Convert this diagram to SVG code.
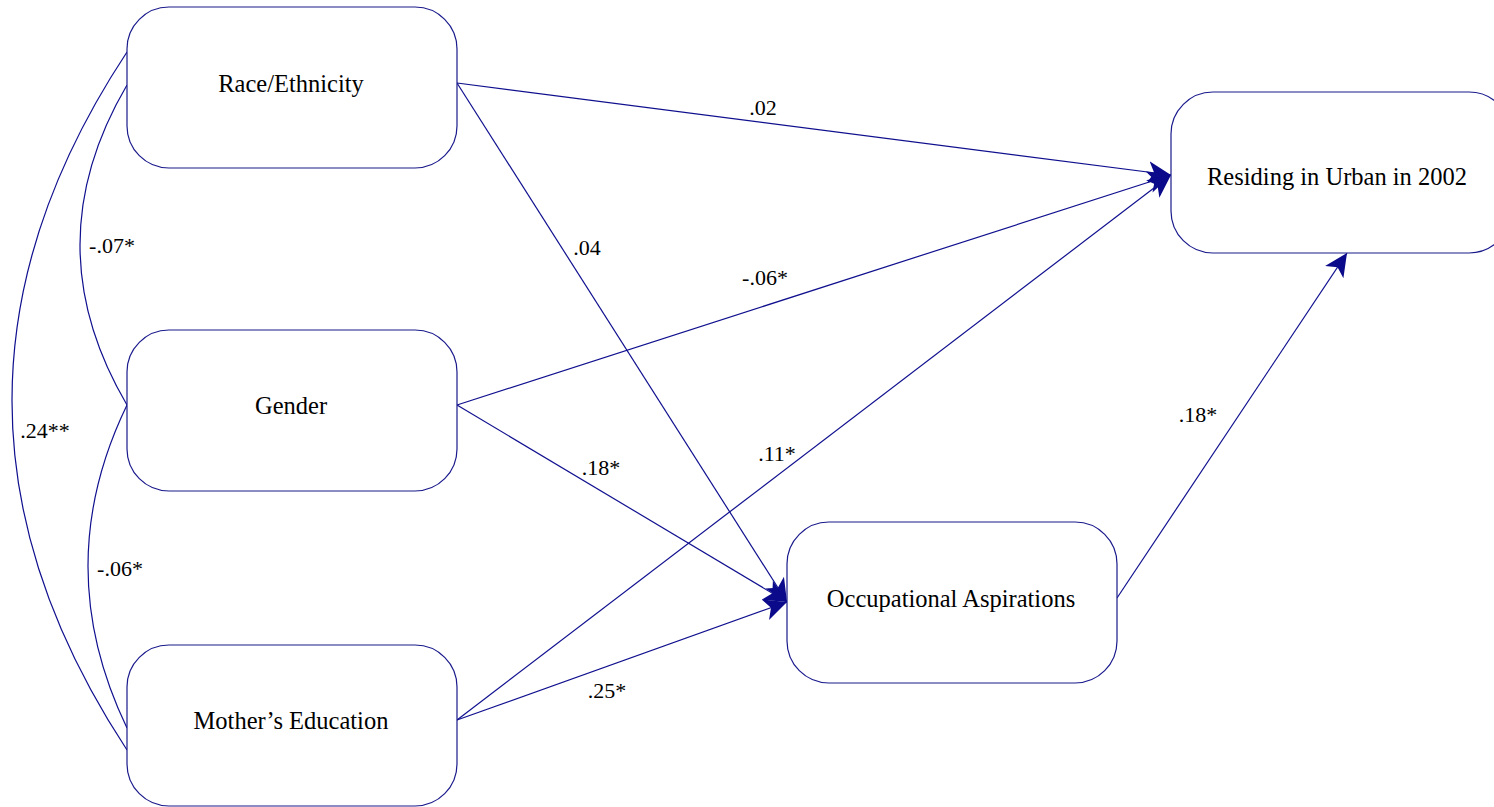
<svg xmlns="http://www.w3.org/2000/svg" width="1494" height="807" viewBox="0 0 1494 807">
<defs>
<style>
.box{fill:#fff;stroke:#1a1a8c;stroke-width:1.2}
.lbl{font-family:'Liberation Serif','DejaVu Serif','Times New Roman',serif;font-size:24.5px;fill:#000;text-anchor:middle;dominant-baseline:central}
.el{font-family:'Liberation Serif','DejaVu Serif','Times New Roman',serif;font-size:22px;fill:#000;text-anchor:middle;dominant-baseline:central}
.cn{fill:none;stroke:#10108f;stroke-width:1.2}
</style>
<marker id="ah" markerUnits="userSpaceOnUse" markerWidth="26" markerHeight="24" refX="23" refY="12" orient="auto">
<path d="M0,1 L23,12 L0,23 L6,12 Z" fill="#0a0a8a"/>
</marker>
</defs>
<rect width="1494" height="807" fill="#fff"/>
<g id="connectors">
<path class="cn" d="M127,52 Q-103,400 127,750"/>
<path class="cn" d="M127,85 Q33,245 127,405"/>
<path class="cn" d="M127,405 Q49,566 127,728"/>
<line class="cn" x1="457" y1="83" x2="1171" y2="175" marker-end="url(#ah)"/>
<line class="cn" x1="457" y1="83" x2="787" y2="602" marker-end="url(#ah)"/>
<line class="cn" x1="457" y1="405" x2="1171" y2="175" marker-end="url(#ah)"/>
<line class="cn" x1="457" y1="405" x2="787" y2="602" marker-end="url(#ah)"/>
<line class="cn" x1="457" y1="720" x2="1171" y2="175" marker-end="url(#ah)"/>
<line class="cn" x1="457" y1="720" x2="787" y2="602" marker-end="url(#ah)"/>
<line class="cn" x1="1117" y1="598" x2="1347" y2="253" marker-end="url(#ah)"/>
<text class="el" x="763" y="107">.02</text>
<text class="el" x="587" y="247">.04</text>
<text class="el" x="765" y="277">-.06*</text>
<text class="el" x="601" y="467">.18*</text>
<text class="el" x="777" y="453">.11*</text>
<text class="el" x="607" y="690">.25*</text>
<text class="el" x="1198" y="414">.18*</text>
<text class="el" x="45" y="430">.24**</text>
<text class="el" x="112" y="245">-.07*</text>
<text class="el" x="120" y="568">-.06*</text>
</g>
<g id="race"><rect class="box" x="127" y="7" width="330" height="161" rx="42" ry="42"/><text class="lbl" x="291" y="83">Race/Ethnicity</text></g>
<g id="gender"><rect class="box" x="127" y="330" width="330" height="161" rx="42" ry="42"/><text class="lbl" x="291" y="405">Gender</text></g>
<g id="mother"><rect class="box" x="127" y="645" width="330" height="161" rx="42" ry="42"/><text class="lbl" x="291" y="720">Mother’s Education</text></g>
<g id="occ"><rect class="box" x="787" y="522" width="330" height="161" rx="42" ry="42"/><text class="lbl" x="951" y="598">Occupational Aspirations</text></g>
<g id="urban"><rect class="box" x="1171" y="92" width="340" height="161" rx="42" ry="42"/><text class="lbl" x="1337" y="176">Residing in Urban in 2002</text></g>
</svg>
